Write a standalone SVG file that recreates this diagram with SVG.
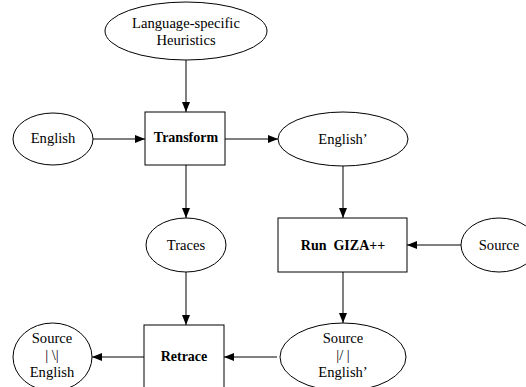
<svg xmlns="http://www.w3.org/2000/svg" width="526" height="387" viewBox="0 0 526 387">
<defs>
<style>
.n{fill:#fff;stroke:#000;stroke-width:1}
.t{font-family:"Liberation Serif","Times New Roman",serif;font-size:14.6px;fill:#000;text-anchor:middle}
.b{font-weight:bold;font-size:14px}
.e{stroke:#000;stroke-width:1;fill:none;marker-end:url(#ah)}
</style>
<marker id="ah" viewBox="0 0 10 8" refX="10" refY="4" markerWidth="10" markerHeight="8" markerUnits="userSpaceOnUse" orient="auto">
<path d="M0,0 L10,4 L0,8 Z" fill="#000"/>
</marker>
</defs>
<rect width="526" height="387" fill="#fff"/>
<g id="edges">
<line class="e" x1="186" y1="60" x2="186" y2="112"/>
<line class="e" x1="93" y1="139" x2="145" y2="139"/>
<line class="e" x1="225" y1="139" x2="278" y2="139"/>
<line class="e" x1="343" y1="166" x2="343" y2="218"/>
<line class="e" x1="461" y1="245" x2="407" y2="245"/>
<line class="e" x1="186" y1="165" x2="186" y2="218"/>
<line class="e" x1="186" y1="272" x2="186" y2="325"/>
<line class="e" x1="343" y1="272" x2="343" y2="323"/>
<line class="e" x1="277" y1="357" x2="224" y2="357"/>
<line class="e" x1="144" y1="357" x2="92" y2="357"/>
</g>
<g id="heuristics">
<ellipse class="n" cx="186" cy="31" rx="81" ry="29"/>
<text class="t" x="186" y="28">Language-specific</text>
<text class="t" x="186" y="45">Heuristics</text>
</g>
<g id="english">
<ellipse class="n" cx="53" cy="139" rx="40" ry="26"/>
<text class="t" x="53" y="143">English</text>
</g>
<g id="transform">
<rect class="n" x="145" y="112" width="80" height="53"/>
<text class="t b" x="186" y="142">Transform</text>
</g>
<g id="englishp">
<ellipse class="n" cx="343" cy="139" rx="65" ry="27"/>
<text class="t" x="343" y="144">English’</text>
</g>
<g id="giza">
<rect class="n" x="278" y="218" width="129" height="54"/>
<text class="t b" x="343" y="250" xml:space="preserve">Run  GIZA++</text>
</g>
<g id="source">
<ellipse class="n" cx="499" cy="245" rx="38" ry="27"/>
<text class="t" x="499" y="250">Source</text>
</g>
<g id="traces">
<ellipse class="n" cx="186" cy="245" rx="40" ry="27"/>
<text class="t" x="186" y="250">Traces</text>
</g>
<g id="retrace">
<rect class="n" x="144" y="325" width="80" height="70"/>
<text class="t b" x="184" y="361">Retrace</text>
</g>
<g id="aligned">
<ellipse class="n" cx="343" cy="357" rx="63" ry="34"/>
<text class="t" x="343" y="343">Source</text>
<text class="t" x="343" y="360">|/ |</text>
<text class="t" x="343" y="377">English’</text>
</g>
<g id="result">
<ellipse class="n" cx="52.500" cy="357" rx="39.500" ry="34"/>
<text class="t" x="52" y="343">Source</text>
<text class="t" x="52" y="360">| \|</text>
<text class="t" x="52" y="377">English</text>
</g>
</svg>
